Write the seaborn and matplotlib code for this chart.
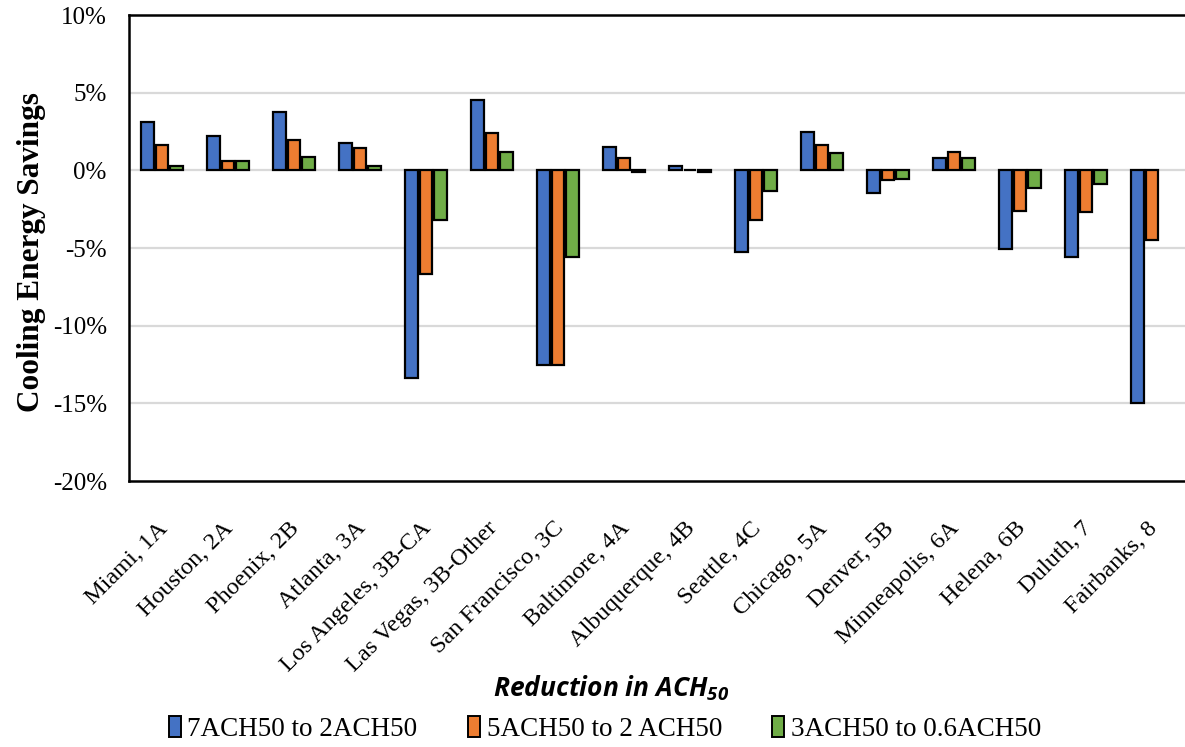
import matplotlib
matplotlib.use("Agg")
import matplotlib.pyplot as plt
import matplotlib.ticker as mticker
import matplotlib.transforms as mtransforms
from matplotlib.patches import Patch
import numpy as np
import pandas as pd
import seaborn as sns

# Climate locations (city, climate zone)
cities = ["Miami, 1A", "Houston, 2A", "Phoenix, 2B", "Atlanta, 3A",
          "Los Angeles, 3B-CA", "Las Vegas, 3B-Other", "San Francisco, 3C",
          "Baltimore, 4A", "Albuquerque, 4B", "Seattle, 4C", "Chicago, 5A",
          "Denver, 5B", "Minneapolis, 6A", "Helena, 6B", "Duluth, 7",
          "Fairbanks, 8"]

series_names = ["7ACH50 to 2ACH50", "5ACH50 to 2 ACH50", "3ACH50 to 0.6ACH50"]

# Cooling energy savings, percent
savings_7_to_2 = [3.1, 2.2, 3.75, 1.75, -13.4, 4.5, -12.5, 1.5, 0.3, -5.25,
                  2.45, -1.45, 0.8, -5.05, -5.6, -15.0]
savings_5_to_2 = [1.6, 0.6, 1.95, 1.45, -6.7, 2.4, -12.5, 0.8, 0.05, -3.2,
                  1.6, -0.65, 1.2, -2.65, -2.7, -4.5]
savings_3_to_06 = [0.3, 0.6, 0.85, 0.3, -3.2, 1.15, -5.55, -0.1, -0.1, -1.3,
                   1.1, -0.55, 0.8, -1.15, -0.9, np.nan]

colors = ["#4472C4", "#ED7D31", "#70AD47"]

df = pd.DataFrame({
    "city": cities * 3,
    "series": sum([[s] * len(cities) for s in series_names], []),
    "value": savings_7_to_2 + savings_5_to_2 + savings_3_to_06,
})

sns.set_theme(style="white")
plt.rcParams["font.family"] = ["Liberation Serif", "DejaVu Serif"]
plt.rcParams["mathtext.fontset"] = "custom"
plt.rcParams["mathtext.rm"] = "Open Sans:italic:bold"
plt.rcParams["mathtext.it"] = "Open Sans:italic:bold"
plt.rcParams["text.color"] = "black"
plt.rcParams["axes.labelcolor"] = "black"
plt.rcParams["xtick.color"] = "black"
plt.rcParams["ytick.color"] = "black"

fig = plt.figure(figsize=(11.85, 7.47), dpi=100)
ax = fig.add_axes([129 / 1185, 1 - 481 / 747, 1056 / 1185, 466 / 747])

sns.barplot(data=df, x="city", y="value", hue="series", hue_order=series_names,
            order=cities, palette=colors, edgecolor="black", linewidth=1.6,
            width=0.67, gap=0.15, saturation=1, ax=ax, legend=False, errorbar=None)

ax.set_ylim(-20, 10)
ax.set_xlim(-0.5, len(cities) - 0.5)
ax.set_yticks(np.arange(-20, 10.1, 5))
ax.yaxis.set_major_formatter(mticker.FuncFormatter(lambda v, p: f"{v:.0f}%"))
ax.tick_params(axis="y", labelsize=18, length=0, pad=16)
ax.tick_params(axis="x", labelsize=17.5, length=0, pad=18)

for y in np.arange(-15, 10, 5):
    ax.axhline(y, color="#D9D9D9", linewidth=1.6, zorder=0)
ax.set_axisbelow(True)

shift = mtransforms.ScaledTranslation(-5 / 100, -12 / 100, fig.dpi_scale_trans)
for lbl in ax.get_xticklabels():
    lbl.set_rotation(45)
    lbl.set_ha("right")
    lbl.set_va("top")
    lbl.set_rotation_mode("anchor")
    lbl.set_transform(lbl.get_transform() + shift)

ax.spines["right"].set_visible(False)
for side in ["top", "bottom", "left"]:
    ax.spines[side].set_color("black")
    ax.spines[side].set_linewidth(1.8)

ax.set_ylabel("Cooling Energy Savings", fontsize=22.5, fontweight="bold")
ax.yaxis.set_label_coords((46 - 129) / 1056, (481 - 252) / 466)
ax.set_xlabel("")

fig.text(0.516, 1 - 688 / 747, r"Reduction in ACH$_{\mathrm{50}}$", fontsize=19,
         fontweight="bold", style="italic", family="Open Sans",
         ha="center", va="center")

handles = [Patch(facecolor=c, edgecolor="black", linewidth=1.4) for c in colors]
fig.legend(handles, series_names, loc="center", bbox_to_anchor=(0.5105, 1 - 729 / 747),
           ncol=3, frameon=False, fontsize=19.5, handlelength=0.45, handleheight=0.8,
           handletextpad=0.25, columnspacing=1.85)

fig.savefig("out.png", dpi=100)
